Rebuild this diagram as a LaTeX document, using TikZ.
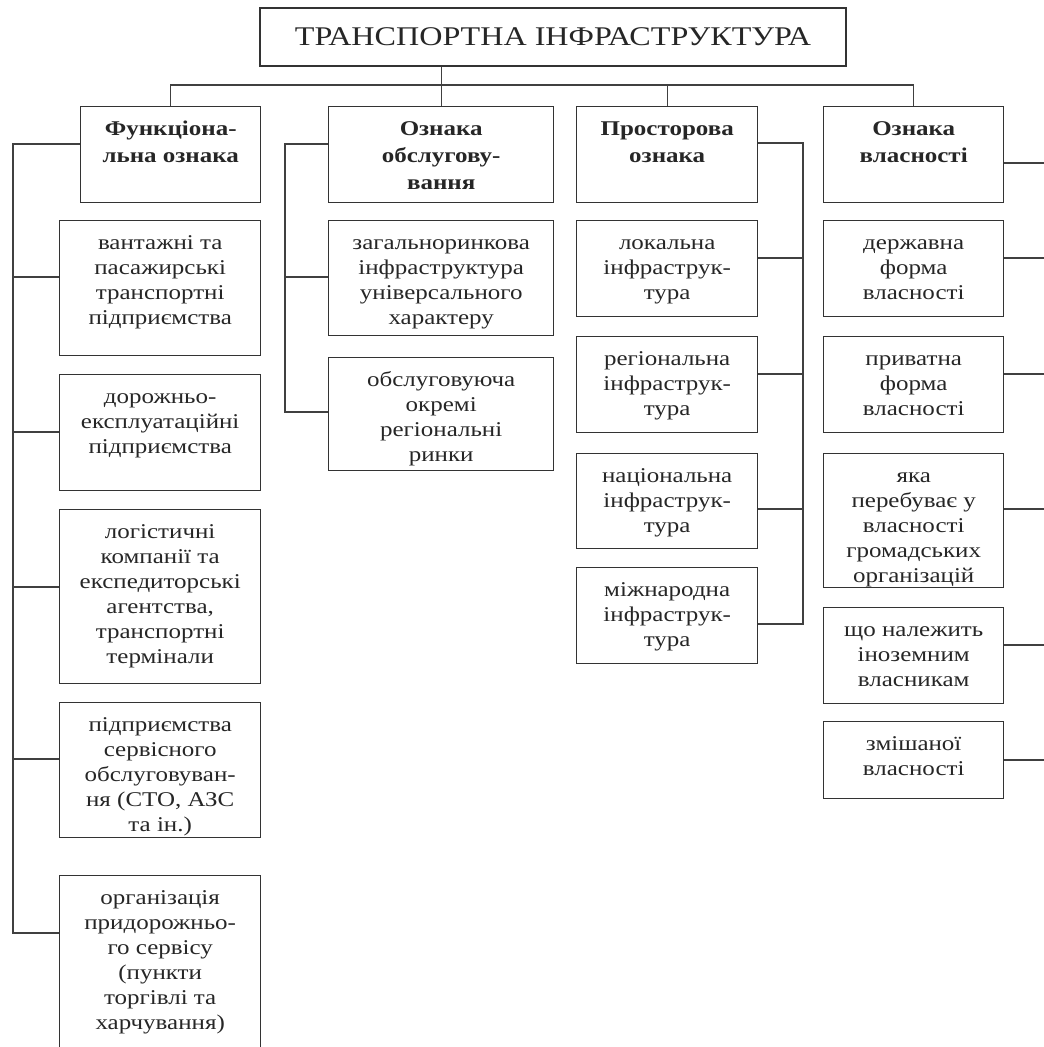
\documentclass[tikz,border=0pt]{standalone}
\usepackage{fontspec}
\setmainfont{Liberation Serif}[FakeStretch=1.19]
\tikzset{
  frame/.style={draw=black!80, line width=1.4pt, inner sep=0pt, anchor=north west},
  txt/.style={align=center, inner sep=0pt, anchor=north, yshift=-12pt, text=black!85, font=\fontsize{21}{25}\selectfont},
  hdr/.style={txt, yshift=2pt, font=\fontsize{21}{27}\selectfont\bfseries},
  titlebox/.style={draw=black!80, line width=1.4pt, inner sep=0pt, text=black!85, font=\fontsize{27}{30}\selectfont},
  conn/.style={draw=black!75, line width=1.4pt},
}
\newcommand\mkbox[7][txt]{%
  \node[frame, minimum width={(#5)-(#3)}, minimum height={(#6)-(#4)}] (#2) at (#3,#4) {};
  \node[#1] (#2t) at (#2.north) {\strut#7};
}
\begin{document}
\begin{tikzpicture}[x=1pt, y=-1pt]
\useasboundingbox (0,0) rectangle (1044,1047);
\clip (0,0) rectangle (1044,1047);

\node[titlebox, minimum width=586, minimum height=58] (title) at (553,37) {ТРАНСПОРТНА ІНФРАСТРУКТУРА\hspace{22pt}};

% headers
\mkbox[hdr]{h1}{80}{106}{260}{202}{Функціона-\\льна ознака}
\mkbox[hdr]{h2}{328}{106}{553}{202}{Ознака\\обслугову-\\вання}
\mkbox[hdr]{h3}{576}{106}{757}{202}{Просторова\\ознака}
\mkbox[hdr]{h4}{823}{106}{1003}{202}{Ознака\\власності}

% column 1
\mkbox{c11}{59}{220}{260}{355}{вантажні та\\пасажирські\\транспортні\\підприємства}
\mkbox{c12}{59}{374}{260}{490}{дорожньо-\\експлуатаційні\\підприємства}
\mkbox{c13}{59}{509}{260}{683}{логістичні\\компанії та\\експедиторські\\агентства,\\транспортні\\термінали}
\mkbox{c14}{59}{702}{260}{837}{підприємства\\сервісного\\обслуговуван-\\ня (СТО, АЗС\\та ін.)}
\mkbox{c15}{59}{875}{260}{1060}{організація\\придорожньо-\\го сервісу\\(пункти\\торгівлі та\\харчування)}

% column 2
\mkbox{c21}{328}{220}{553}{335}{загальноринкова\\інфраструктура\\універсального\\характеру}
\mkbox{c22}{328}{357}{553}{470}{обслуговуюча\\окремі\\регіональні\\ринки}

% column 3
\mkbox{c31}{576}{220}{757}{316}{локальна\\інфраструк-\\тура}
\mkbox{c32}{576}{336}{757}{432}{регіональна\\інфраструк-\\тура}
\mkbox{c33}{576}{453}{757}{548}{національна\\інфраструк-\\тура}
\mkbox{c34}{576}{567}{757}{663}{міжнародна\\інфраструк-\\тура}

% column 4
\mkbox{c41}{823}{220}{1003}{316}{державна\\форма\\власності}
\mkbox{c42}{823}{336}{1003}{432}{приватна\\форма\\власності}
\mkbox{c43}{823}{453}{1003}{587}{яка\\перебуває у\\власності\\громадських\\організацій}
\mkbox{c44}{823}{607}{1003}{703}{що належить\\іноземним\\власникам}
\mkbox{c45}{823}{721}{1003}{798}{змішаної\\власності}

% top connectors
\coordinate (bus) at (442,85);
\draw[conn] (h1.north) -- (h1.north |- bus) -- (h4.north |- bus) -- (h4.north);
\draw[conn] (h3.north |- bus) -- (h3.north);
\draw[conn] (title.south -| h2.north) -- (h2.north);

% column 1 connectors
\coordinate (sp1) at (13,0);
\draw[conn] (h1.west |- 0,144) -- (sp1 |- 0,144) -- (sp1 |- 0,933) -- (c15.west |- 0,933);
\draw[conn] (sp1 |- 0,277) -- (c11.west |- 0,277);
\draw[conn] (sp1 |- 0,432) -- (c12.west |- 0,432);
\draw[conn] (sp1 |- 0,587) -- (c13.west |- 0,587);
\draw[conn] (sp1 |- 0,759) -- (c14.west |- 0,759);

% column 2 connectors
\coordinate (sp2) at (285,0);
\draw[conn] (h2.west |- 0,144) -- (sp2 |- 0,144) -- (sp2 |- 0,412) -- (c22.west |- 0,412);
\draw[conn] (sp2 |- 0,277) -- (c21.west |- 0,277);

% column 3 connectors
\coordinate (sp3) at (803,0);
\draw[conn] (h3.east |- 0,143) -- (sp3 |- 0,143) -- (sp3 |- 0,624) -- (c34.east |- 0,624);
\draw[conn] (c31.east |- 0,258) -- (sp3 |- 0,258);
\draw[conn] (c32.east |- 0,374) -- (sp3 |- 0,374);
\draw[conn] (c33.east |- 0,509) -- (sp3 |- 0,509);

% column 4 connectors (continue past the right edge)
\coordinate (sp4) at (1050,0);
\draw[conn] (h4.east |- 0,163) -- (sp4 |- 0,163);
\draw[conn] (c41.east |- 0,258) -- (sp4 |- 0,258);
\draw[conn] (c42.east |- 0,374) -- (sp4 |- 0,374);
\draw[conn] (c43.east |- 0,509) -- (sp4 |- 0,509);
\draw[conn] (c44.east |- 0,645) -- (sp4 |- 0,645);
\draw[conn] (c45.east |- 0,760) -- (sp4 |- 0,760);
\end{tikzpicture}
\end{document}
